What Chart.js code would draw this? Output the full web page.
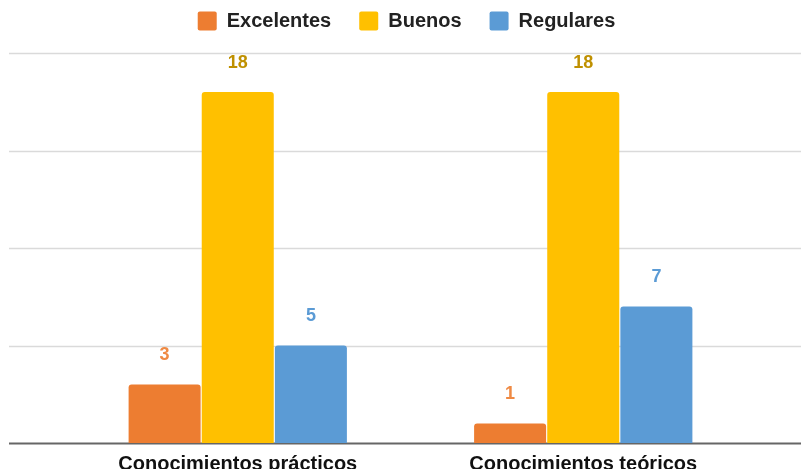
<!DOCTYPE html>
<html lang="es">
<head>
    <meta charset="UTF-8">
    <title>Conocimientos</title>
    <script src="https://cdn.jsdelivr.net/npm/chart.js"></script>
    <style>
        html, body { margin: 0; padding: 0; background: #fff; overflow: hidden; }
        .chart-box { position: relative; width: 801px; height: 477px; }
    </style>
</head>
<body>
<div class="chart-box"><canvas id="chart"></canvas></div>
<script>
    const categories = ["Conocimientos prácticos", "Conocimientos teóricos"];
    const seriesNames = ["Excelentes", "Buenos", "Regulares"];
    const excelentes = [3, 1];
    const buenos = [18, 18];
    const regulares = [5, 7];
    const yTicks = [0, 5, 10, 15, 20];

    const barColors = ["#ED7D31", "#FFC000", "#5B9BD5"];
    const labelColors = ["#EF8A44", "#BF9000", "#5B9BD5"];

    // lineas de fondo que cruzan todo el ancho, como en la hoja original
    const fullGrid = {
        id: "fullGrid",
        beforeDatasetsDraw(chart) {
            const ctx = chart.ctx;
            const y = chart.scales.y;
            ctx.save();
            yTicks.forEach(v => {
                const py = Math.round(y.getPixelForValue(v)) + 0.5;
                ctx.beginPath();
                ctx.strokeStyle = v === 0 ? "#666666" : "#dadada";
                ctx.lineWidth = v === 0 ? 2 : 1.5;
                ctx.moveTo(9, py);
                ctx.lineTo(chart.width, py);
                ctx.stroke();
            });
            ctx.restore();
        }
    };

    const valueLabels = {
        id: "valueLabels",
        afterDatasetsDraw(chart) {
            const ctx = chart.ctx;
            ctx.save();
            ctx.font = "bold 18px 'Liberation Sans', Arial, sans-serif";
            ctx.textAlign = "center";
            ctx.textBaseline = "middle";
            chart.data.datasets.forEach((ds, i) => {
                chart.getDatasetMeta(i).data.forEach((bar, j) => {
                    ctx.fillStyle = labelColors[i];
                    ctx.fillText(ds.data[j], bar.x, bar.y - 29);
                });
            });
            ctx.restore();
        }
    };

    // un poco mas de aire entre la leyenda y el grafico
    const legendGap = {
        id: "legendGap",
        beforeInit(chart) {
            const fit = chart.legend.fit;
            chart.legend.fit = function () {
                fit.bind(chart.legend)();
                this.height += 12;
            };
        }
    };

    const seriesData = [excelentes, buenos, regulares];

    new Chart(document.getElementById("chart"), {
        type: "bar",
        data: {
            labels: categories,
            datasets: seriesNames.map((name, i) => ({
                label: name,
                data: seriesData[i],
                backgroundColor: barColors[i],
                borderRadius: { topLeft: 3, topRight: 3 },
                borderSkipped: "bottom",
                barPercentage: 0.985,
                categoryPercentage: 0.635
            }))
        },
        options: {
            responsive: true,
            maintainAspectRatio: false,
            animation: false,
            layout: { padding: { left: 57, right: 45, top: -17, bottom: 0 } },
            plugins: {
                tooltip: { enabled: false },
                legend: {
                    position: "top",
                    labels: {
                        color: "#222",
                        font: { family: "'Liberation Sans', Arial, sans-serif", size: 20, weight: "bold" },
                        boxWidth: 19,
                        boxHeight: 19,
                        padding: 28,
                        useBorderRadius: true,
                        borderRadius: 2
                    }
                }
            },
            scales: {
                x: {
                    grid: { display: false },
                    border: { display: false },
                    ticks: {
                        color: "#111",
                        padding: 1,
                        font: { family: "'Liberation Sans', Arial, sans-serif", size: 20, weight: "bold" }
                    }
                },
                y: {
                    min: 0,
                    max: 20,
                    afterBuildTicks: axis => { axis.ticks = yTicks.map(v => ({ value: v })); },
                    grid: { display: false },
                    border: { display: false },
                    ticks: { display: false }
                }
            }
        },
        plugins: [fullGrid, valueLabels, legendGap]
    });
</script>
</body>
</html>
